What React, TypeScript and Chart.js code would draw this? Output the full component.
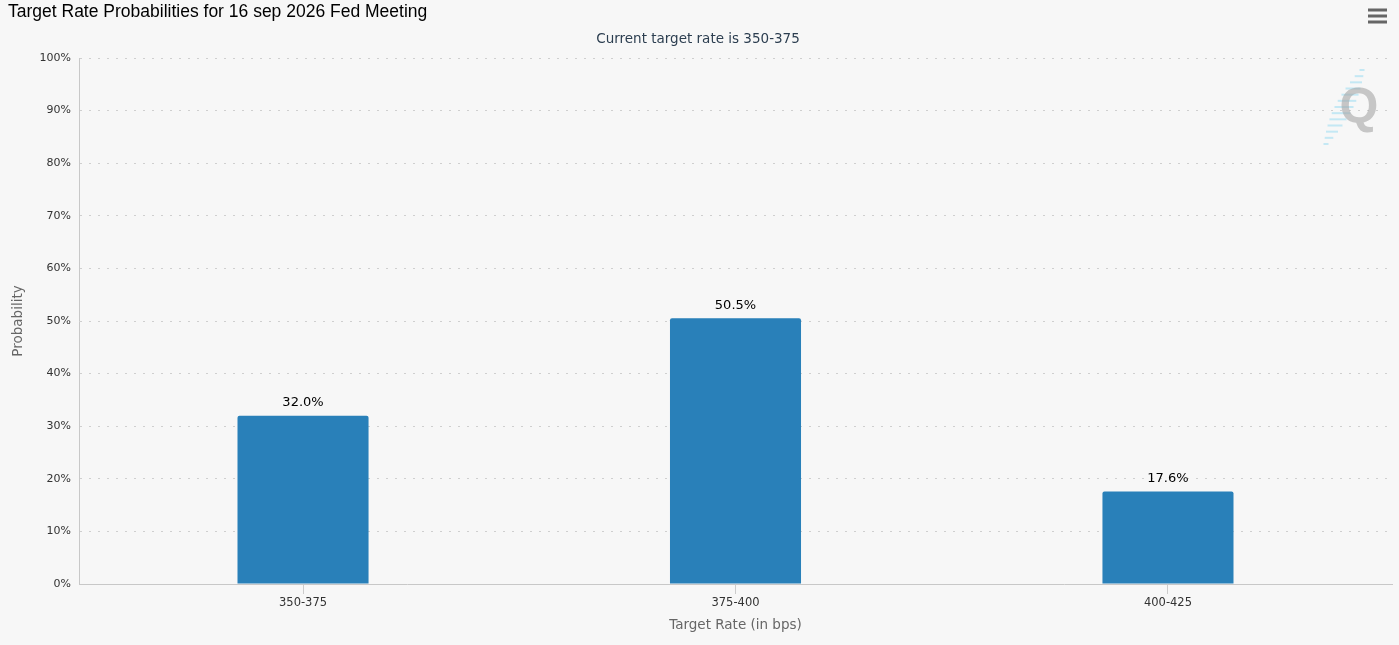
import { useEffect, useRef } from 'react';
import Chart from 'chart.js/auto';

const categories = ['350-375', '375-400', '400-425'];
const probabilities = [32.0, 50.5, 17.6];
const yTickStep = 10;
const yMax = 100;

const chartTitle = 'Target Rate Probabilities for 16 sep 2026 Fed Meeting';
const chartSubtitle = 'Current target rate is 350-375';
const xAxisTitle = 'Target Rate (in bps)';
const yAxisTitle = 'Probability';

const FONT = '"DejaVu Sans", Verdana, sans-serif';

// draws the header, axis titles, value labels, menu icon and watermark
const decorations = {
  id: 'decorations',
  beforeDraw(chart: Chart) {
    const { ctx, width, height } = chart;
    ctx.save();
    ctx.fillStyle = '#f7f7f7';
    ctx.fillRect(0, 0, width, height);
    ctx.restore();
  },
  afterDraw(chart: Chart) {
    const { ctx, chartArea } = chart;
    ctx.save();

    // title
    ctx.fillStyle = '#000';
    ctx.font = '17.5px "Liberation Sans", Arial, sans-serif';
    ctx.textAlign = 'left';
    ctx.textBaseline = 'middle';
    ctx.fillText(chartTitle, 8, 12);

    // subtitle
    ctx.fillStyle = '#2c3e50';
    ctx.font = `13.5px ${FONT}`;
    ctx.textAlign = 'center';
    ctx.fillText(chartSubtitle, 698, 39);

    // axis titles
    ctx.fillStyle = '#666';
    ctx.fillText(xAxisTitle, (chartArea.left + chartArea.right) / 2, 625);
    ctx.save();
    ctx.translate(18, (chartArea.top + chartArea.bottom) / 2);
    ctx.rotate(-Math.PI / 2);
    ctx.fillText(yAxisTitle, 0, 0);
    ctx.restore();

    // value labels
    ctx.fillStyle = '#000';
    ctx.font = `13px ${FONT}`;
    const meta = chart.getDatasetMeta(0);
    meta.data.forEach((bar: any, i: number) => {
      ctx.fillText(probabilities[i].toFixed(1) + '%', bar.x, bar.y - 13);
    });

    // hamburger menu
    ctx.fillStyle = '#666';
    [8.5, 14.5, 20.5].forEach((y) => {
      ctx.fillRect(1368, y, 19, 3);
    });

    // watermark
    ctx.strokeStyle = 'rgba(120, 210, 240, 0.4)';
    ctx.lineWidth = 2;
    for (let k = 0; k < 13; k++) {
      const t = k / 12;
      const cx = 1362 - t * 36;
      const cy = 70 + t * 74;
      const len = 5 + 14 * Math.sin(Math.PI * t);
      ctx.beginPath();
      ctx.moveTo(cx - len / 2, cy);
      ctx.lineTo(cx + len / 2, cy);
      ctx.stroke();
    }
    ctx.fillStyle = 'rgba(165, 165, 165, 0.6)';
    ctx.font = 'bold 50px "Liberation Sans", Arial, sans-serif';
    ctx.textAlign = 'center';
    ctx.fillText('Q', 1359, 109);

    ctx.restore();
  },
};

export default function App() {
  const canvasRef = useRef<HTMLCanvasElement>(null);
  const chartRef = useRef<Chart | null>(null);

  useEffect(() => {
    if (!canvasRef.current) return;
    if (chartRef.current) chartRef.current.destroy();

    chartRef.current = new Chart(canvasRef.current, {
      type: 'bar',
      data: {
        datasets: [
          {
            data: probabilities.map((y, i) => ({ x: i, y })),
            backgroundColor: '#2980b9',
            borderRadius: 2,
            barPercentage: 0.303,
            categoryPercentage: 1,
          },
        ],
      },
      options: {
        animation: false,
        responsive: false,
        layout: { padding: { top: 58, left: 0, right: 7, bottom: 0 } },
        plugins: {
          legend: { display: false },
          tooltip: { enabled: false },
          title: { display: false },
        },
        scales: {
          x: {
            type: 'linear',
            min: -0.518,
            max: 2.518,
            offset: false,
            afterBuildTicks: (scale: any) => {
              scale.ticks = categories.map((_, i) => ({ value: i }));
            },
            afterFit: (scale: any) => {
              scale.height = 61;
            },
            grid: {
              offset: false,
              drawOnChartArea: false,
              drawTicks: true,
              tickLength: 10,
              tickColor: '#ccc',
              color: '#ccc',
            },
            border: { display: true, color: '#c8c8c8', width: 1 },
            ticks: {
              padding: 2,
              color: '#333',
              font: { family: FONT, size: 11.5 },
              callback: (v: any) => categories[v] ?? '',
            },
          },
          y: {
            min: 0,
            max: yMax,
            afterFit: (scale: any) => {
              scale.width = 79;
            },
            grid: {
              color: '#cfcfcf',
              lineWidth: 1,
              drawTicks: false,
            },
            border: { display: true, color: '#c8c8c8', width: 1, dash: [2, 7] },
            ticks: {
              stepSize: yTickStep,
              padding: 8,
              color: '#333',
              font: { family: FONT, size: 11 },
              callback: (v: any) => v + '%',
            },
          },
        },
      },
      plugins: [decorations],
    });

    return () => {
      if (chartRef.current) {
        chartRef.current.destroy();
        chartRef.current = null;
      }
    };
  }, []);

  return (
    <div
      style={{
        position: 'fixed',
        left: 0,
        top: 0,
        width: 1399,
        height: 645,
        background: '#f7f7f7',
      }}
    >
      <canvas ref={canvasRef} width={1399} height={645} />
    </div>
  );
}
